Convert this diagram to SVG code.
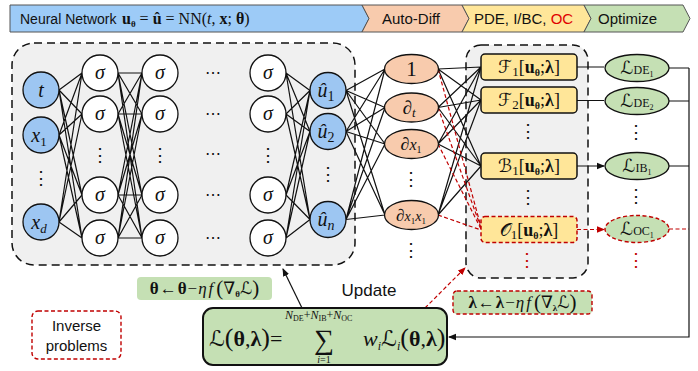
<svg xmlns="http://www.w3.org/2000/svg" width="698" height="371" viewBox="0 0 698 371">
<style>
.m{font-family:"Liberation Serif","DejaVu Serif","DejaVu Sans",serif;fill:#111}
.s{font-family:"Liberation Sans",Arial,sans-serif;fill:#111}
.blue{fill:#9DC6F2;stroke:#111;stroke-width:1.3}
.sig{fill:#fff;stroke:#111;stroke-width:1.3}
.peach{fill:#F8CBAD;stroke:#111;stroke-width:1.3}
.op{fill:#FFE699;stroke:#111;stroke-width:1.5}
.loss{fill:#C5E0B4;stroke:#111;stroke-width:1.3}
.ed{fill:none;stroke:#111;stroke-width:1.2}
.red{fill:none;stroke:#C00000;stroke-width:1.2;stroke-dasharray:4,2.5}
.lbl{font-size:20px;text-anchor:middle;font-style:italic}
.dots{font-family:"DejaVu Serif",serif;fill:#111;text-anchor:middle}
</style>
<defs>
<marker id="ab" markerWidth="8" markerHeight="8" refX="7" refY="4" orient="auto" markerUnits="userSpaceOnUse"><path d="M0,0.8L8,4L0,7.2Z" fill="#111"/></marker>
<marker id="ar" markerWidth="8" markerHeight="8" refX="7" refY="4" orient="auto" markerUnits="userSpaceOnUse"><path d="M0,0.8L8,4L0,7.2Z" fill="#C00000"/></marker>
</defs>

<g id="header">
<polygon points="10,5 362,5 369,18.5 362,32 10,32" fill="#9DCBF7" stroke="#555" stroke-width="1"/>
<polygon points="362,5 462,5 469,18.5 462,32 362,32 369,18.5" fill="#F8CBAD" stroke="#555" stroke-width="1"/>
<polygon points="462,5 584,5 591,18.5 584,32 462,32 469,18.5" fill="#FFE699" stroke="#555" stroke-width="1"/>
<polygon points="584,5 683,5 690,18.5 683,32 584,32 591,18.5" fill="#C5E0B4" stroke="#555" stroke-width="1"/>
<text class="s" x="20" y="24" font-size="14">Neural Network</text>
<text class="m" x="122" y="24" font-size="16"><tspan font-weight="bold">u</tspan><tspan font-weight="bold" font-size="9" dy="3">θ</tspan><tspan dy="-3"> = </tspan><tspan font-weight="bold">û</tspan> = NN(<tspan font-style="italic">t</tspan>, <tspan font-weight="bold">x</tspan>; <tspan font-weight="bold">θ</tspan>)</text>
<text class="s" x="411" y="24" font-size="15" text-anchor="middle">Auto-Diff</text>
<text class="s" x="474" y="24" font-size="15">PDE, I/BC, <tspan fill="#E00000">OC</tspan></text>
<text class="s" x="598" y="24" font-size="15">Optimize</text>
</g>

<g id="panels">
<rect x="12" y="43" width="343" height="222" rx="22" fill="#F0F0F0" stroke="#111" stroke-width="1.5" stroke-dasharray="8,5"/>
<rect x="466" y="45" width="122" height="233" rx="15" fill="#F0F0F0" stroke="#111" stroke-width="1.5" stroke-dasharray="8,5"/>
</g>

<g id="connectors">
<path class="ed" d="M59 90L82 73M59 90L82 114M59 90L82 195M59 90L82 238M59 135L82 73M59 135L82 114M59 135L82 195M59 135L82 238M59 222L82 73M59 222L82 114M59 222L82 195M59 222L82 238"/>
<path class="ed" d="M118 73L142 73M118 73L142 114M118 73L142 195M118 73L142 238M118 114L142 73M118 114L142 114M118 114L142 195M118 114L142 238M118 195L142 73M118 195L142 114M118 195L142 195M118 195L142 238M118 238L142 73M118 238L142 114M118 238L142 195M118 238L142 238"/>
<path class="ed" d="M286 73L310 90.5M286 73L310 131.5M286 73L310 219.5M286 114L310 90.5M286 114L310 131.5M286 114L310 219.5M286 195L310 90.5M286 195L310 131.5M286 195L310 219.5M286 238L310 90.5M286 238L310 131.5M286 238L310 219.5"/>
<path class="ed" d="M346 90.5L385 69M346 90.5L385 107.5M346 90.5L385 144M346 90.5L385 215M346 131.5L385 69M346 131.5L385 107.5M346 131.5L385 144M346 131.5L385 215M346 219.5L385 69M346 219.5L385 107.5M346 219.5L385 144M346 219.5L385 215"/>
<path class="ed" d="M438 69L481 67M438 69L481 100M438 69L481 166M438 107.5L481 67M438 107.5L481 100M438 107.5L481 166M438 144L481 67M438 144L481 100M438 144L481 166M438 215L481 67M438 215L481 100M438 215L481 166"/>
<path class="red" d="M438 69L481 227M438 107.5L481 228M438 144L481 229M438 215L481 230"/>
<path class="ed" d="M577 67H604M577 100.5H604M577 166H604" marker-end="url(#ab)"/>
<path class="red" d="M577 229.5H604" marker-end="url(#ar)"/>
<path class="ed" stroke-width="1.4" d="M669 68H689M669 101H689M669 166H689"/>
<path class="red" d="M669 229H689"/>
<path class="ed" stroke-width="1.6" d="M689 68V337H449" marker-end="url(#ab)"/>
<path class="ed" stroke-width="1.4" d="M302 308L283 269" marker-end="url(#ab)"/>
<path class="red" d="M425 308L465 268" marker-end="url(#ar)"/>
</g>

<g id="inputs">
<circle class="blue" cx="41" cy="90" r="18"/><text class="m lbl" x="41" y="97">t</text>
<circle class="blue" cx="41" cy="135" r="18"/><text class="m lbl" x="39" y="142">x<tspan font-size="13" font-style="normal" dy="4">1</tspan></text>
<text class="dots" x="41" y="184" font-size="18">⋮</text>
<circle class="blue" cx="41" cy="222" r="18"/><text class="m lbl" x="39" y="229">x<tspan font-size="13" dy="4">d</tspan></text>
</g>

<g id="hidden1">
<circle class="sig" cx="100" cy="73" r="18"/><text class="m lbl" x="100" y="79">σ</text>
<circle class="sig" cx="100" cy="114" r="18"/><text class="m lbl" x="100" y="120">σ</text>
<text class="dots" x="100" y="161" font-size="18">⋮</text>
<circle class="sig" cx="100" cy="195" r="18"/><text class="m lbl" x="100" y="201">σ</text>
<circle class="sig" cx="100" cy="238" r="18"/><text class="m lbl" x="100" y="244">σ</text>
</g>
<g id="hidden2">
<circle class="sig" cx="160" cy="73" r="18"/><text class="m lbl" x="160" y="79">σ</text>
<circle class="sig" cx="160" cy="114" r="18"/><text class="m lbl" x="160" y="120">σ</text>
<text class="dots" x="160" y="161" font-size="18">⋮</text>
<circle class="sig" cx="160" cy="195" r="18"/><text class="m lbl" x="160" y="201">σ</text>
<circle class="sig" cx="160" cy="238" r="18"/><text class="m lbl" x="160" y="244">σ</text>
</g>
<g id="hdots">
<text class="dots" x="213" y="78" font-size="16">⋯</text>
<text class="dots" x="213" y="119" font-size="16">⋯</text>
<text class="dots" x="213" y="159" font-size="16">⋯</text>
<text class="dots" x="213" y="200" font-size="16">⋯</text>
<text class="dots" x="213" y="243" font-size="16">⋯</text>
</g>
<g id="hiddenL">
<circle class="sig" cx="268" cy="73" r="18"/><text class="m lbl" x="268" y="79">σ</text>
<circle class="sig" cx="268" cy="114" r="18"/><text class="m lbl" x="268" y="120">σ</text>
<text class="dots" x="268" y="161" font-size="18">⋮</text>
<circle class="sig" cx="268" cy="195" r="18"/><text class="m lbl" x="268" y="201">σ</text>
<circle class="sig" cx="268" cy="238" r="18"/><text class="m lbl" x="268" y="244">σ</text>
</g>

<g id="outputs">
<circle class="blue" cx="328" cy="90.5" r="18"/><text class="m lbl" x="326" y="97">û<tspan font-size="14" font-style="normal" dy="4">1</tspan></text>
<circle class="blue" cx="328" cy="131.5" r="18"/><text class="m lbl" x="326" y="138">û<tspan font-size="14" font-style="normal" dy="4">2</tspan></text>
<text class="dots" x="328" y="180" font-size="18">⋮</text>
<circle class="blue" cx="328" cy="219.5" r="18"/><text class="m lbl" x="326" y="226">û<tspan font-size="14" dy="4">n</tspan></text>
</g>

<g id="derivs">
<ellipse class="peach" cx="411.5" cy="69" rx="27" ry="14.5"/><text class="m" x="411.5" y="76" font-size="21" text-anchor="middle">1</text>
<ellipse class="peach" cx="411.5" cy="107.5" rx="27" ry="14.5"/><text class="m" x="409" y="114" font-size="19" text-anchor="middle">∂<tspan font-size="13" font-style="italic" dy="3">t</tspan></text>
<ellipse class="peach" cx="411.5" cy="144" rx="27" ry="14.5"/><text class="m" x="411" y="150" font-size="18" text-anchor="middle">∂<tspan font-style="italic" font-size="16">x</tspan><tspan font-size="10" dy="3">1</tspan></text>
<text class="dots" x="411" y="185" font-size="18">⋮</text>
<ellipse class="peach" cx="411.5" cy="215" rx="27" ry="14.5"/><text class="m" x="411" y="221" font-size="17" text-anchor="middle">∂<tspan font-style="italic" font-size="14">x</tspan><tspan font-size="9" dy="3">1</tspan><tspan font-style="italic" font-size="14" dy="-3">x</tspan><tspan font-size="9" dy="3">1</tspan></text>
<text class="dots" x="411" y="256" font-size="18">⋮</text>
</g>

<g id="ops">
<rect class="op" x="481" y="54" width="96" height="26" rx="4"/><text class="m" x="529" y="73" font-size="18" text-anchor="middle">ℱ<tspan font-size="13" dy="3">1</tspan><tspan dy="-3">[</tspan><tspan font-weight="bold">u</tspan><tspan font-weight="bold" font-size="10" dy="3">θ</tspan><tspan dy="-3">;</tspan><tspan font-weight="bold">λ</tspan>]</text>
<rect class="op" x="481" y="87" width="96" height="26" rx="4"/><text class="m" x="529" y="106" font-size="18" text-anchor="middle">ℱ<tspan font-size="13" dy="3">2</tspan><tspan dy="-3">[</tspan><tspan font-weight="bold">u</tspan><tspan font-weight="bold" font-size="10" dy="3">θ</tspan><tspan dy="-3">;</tspan><tspan font-weight="bold">λ</tspan>]</text>
<text class="dots" x="528" y="137" font-size="18">⋮</text>
<rect class="op" x="481" y="153" width="96" height="26" rx="4"/><text class="m" x="529" y="172" font-size="18" text-anchor="middle">ℬ<tspan font-size="13" dy="3">1</tspan><tspan dy="-3">[</tspan><tspan font-weight="bold">u</tspan><tspan font-weight="bold" font-size="10" dy="3">θ</tspan><tspan dy="-3">;</tspan><tspan font-weight="bold">λ</tspan>]</text>
<text class="dots" x="528" y="203" font-size="18">⋮</text>
<rect x="481" y="216.5" width="96" height="26" rx="4" fill="#FFE699" stroke="#C00000" stroke-width="1.5" stroke-dasharray="4,2.5"/><text class="m" x="529" y="236" font-size="18" text-anchor="middle">𝒪<tspan font-size="13" dy="3">1</tspan><tspan dy="-3">[</tspan><tspan font-weight="bold">u</tspan><tspan font-weight="bold" font-size="10" dy="3">θ</tspan><tspan dy="-3">;</tspan><tspan font-weight="bold">λ</tspan>]</text>
<text class="dots" x="527" y="266" font-size="18" style="fill:#C00000">⋮</text>
</g>

<g id="losses">
<ellipse class="loss" cx="637" cy="68" rx="32" ry="13.5"/><text class="m" x="637" y="74" font-size="18" text-anchor="middle">ℒ<tspan font-size="12">DE</tspan><tspan font-size="8" dy="3">1</tspan></text>
<ellipse class="loss" cx="637" cy="101" rx="32" ry="13.5"/><text class="m" x="637" y="107" font-size="18" text-anchor="middle">ℒ<tspan font-size="12">DE</tspan><tspan font-size="8" dy="3">2</tspan></text>
<text class="dots" x="636" y="138" font-size="18">⋮</text>
<ellipse class="loss" cx="637" cy="166" rx="32" ry="13.5"/><text class="m" x="637" y="172" font-size="18" text-anchor="middle">ℒ<tspan font-size="12">IB</tspan><tspan font-size="8" dy="3">1</tspan></text>
<text class="dots" x="636" y="202" font-size="18">⋮</text>
<ellipse cx="637" cy="229" rx="32" ry="13.5" fill="#C5E0B4" stroke="#C00000" stroke-width="1.4" stroke-dasharray="4,2.5"/><text class="m" x="637" y="235" font-size="18" text-anchor="middle">ℒ<tspan font-size="12">OC</tspan><tspan font-size="8" dy="3">1</tspan></text>
<text class="dots" x="636" y="266" font-size="18" style="fill:#C00000">⋮</text>
</g>

<g id="theta-update">
<rect x="137" y="277" width="135" height="23" rx="4" fill="#C5E0B4"/>
<text class="m" x="204.5" y="294" font-size="17" text-anchor="middle"><tspan font-weight="bold">θ</tspan><tspan dx="1">←</tspan><tspan font-weight="bold" dx="1">θ</tspan><tspan dx="1">−</tspan><tspan font-style="italic" dx="1">η</tspan><tspan font-style="italic" dx="2">f</tspan><tspan font-size="21" dx="3" dy="1">(</tspan><tspan dy="-1">∇</tspan><tspan font-weight="bold" font-size="9" dy="3">θ</tspan><tspan dy="-3">ℒ</tspan><tspan font-size="21" dy="1">)</tspan></text>
</g>

<g id="lambda-update">
<rect x="453" y="291" width="139" height="23" rx="4" fill="#C5E0B4" stroke="#C00000" stroke-width="1.4" stroke-dasharray="4,2.5"/>
<text class="m" x="522.5" y="308" font-size="17" text-anchor="middle"><tspan font-weight="bold">λ</tspan><tspan dx="1">←</tspan><tspan font-weight="bold" dx="1">λ</tspan><tspan dx="1">−</tspan><tspan font-style="italic" dx="1">η</tspan><tspan font-style="italic" dx="2">f</tspan><tspan font-size="21" dx="3" dy="1">(</tspan><tspan dy="-1">∇</tspan><tspan font-weight="bold" font-size="9" dy="3">λ</tspan><tspan dy="-3">ℒ</tspan><tspan font-size="21" dy="1">)</tspan></text>
</g>

<g id="update-label">
<text class="s" x="369" y="296" font-size="17" text-anchor="middle">Update</text>
</g>

<g id="inverse">
<rect x="32" y="311" width="89" height="48" rx="6" fill="#fff" stroke="#C00000" stroke-width="1.4" stroke-dasharray="4,2.5"/>
<text class="s" x="76.5" y="331" font-size="15" text-anchor="middle">Inverse</text>
<text class="s" x="76.5" y="351" font-size="15" text-anchor="middle">problems</text>
</g>

<g id="loss-total">
<rect x="203" y="308" width="244" height="57" rx="10" fill="#C5E0B4" stroke="#111" stroke-width="2"/>
<text class="m" x="209" y="346" font-size="22">ℒ<tspan font-size="26">(</tspan><tspan font-weight="bold">θ</tspan>,<tspan font-weight="bold">λ</tspan><tspan font-size="26">)</tspan>=</text>
<text class="m" x="285" y="319" font-size="12"><tspan font-style="italic">N</tspan><tspan font-size="8" dy="2">DE</tspan><tspan dy="-2">+</tspan><tspan font-style="italic">N</tspan><tspan font-size="8" dy="2">IB</tspan><tspan dy="-2">+</tspan><tspan font-style="italic">N</tspan><tspan font-size="8" dy="2">OC</tspan></text>
<text class="m" x="324" y="349" font-size="28" text-anchor="middle">∑</text>
<text class="m" x="324" y="363" font-size="10" text-anchor="middle"><tspan font-style="italic">i</tspan>=1</text>
<text class="m" x="363" y="346" font-size="22"><tspan font-style="italic">w</tspan><tspan font-style="italic" font-size="12" dy="4">i</tspan><tspan dy="-4">ℒ</tspan><tspan font-style="italic" font-size="12" dy="4">i</tspan><tspan font-size="26" dy="-4">(</tspan><tspan font-weight="bold">θ</tspan>,<tspan font-weight="bold">λ</tspan><tspan font-size="26">)</tspan></text>
</g>
</svg>
